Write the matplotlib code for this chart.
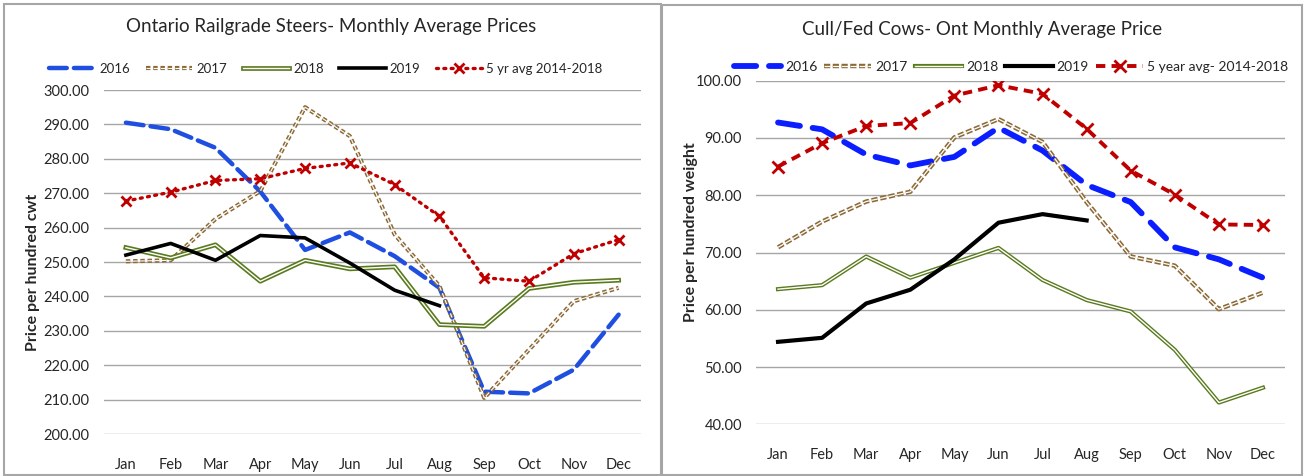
import matplotlib
matplotlib.use("Agg")
import matplotlib.pyplot as plt
import matplotlib.patheffects as pe
from matplotlib.patches import Rectangle

plt.rcParams['font.family'] = ['Lato', 'DejaVu Sans']

months = ['Jan', 'Feb', 'Mar', 'Apr', 'May', 'Jun', 'Jul', 'Aug', 'Sep', 'Oct', 'Nov', 'Dec']

# Ontario railgrade steers ($ per hundred cwt)
steers_2016 = [290.5, 288.6, 283.2, 270.5, 253.5, 258.6, 251.7, 242.5, 212.3, 211.8, 218.7, 234.7]
steers_2017 = [250.2, 250.5, 262.5, 270.6, 295.0, 286.6, 258.0, 243.0, 210.5, 224.5, 238.6, 242.5]
steers_2018 = [254.2, 251.2, 255.0, 244.4, 250.5, 248.0, 248.6, 231.8, 231.3, 242.3, 244.1, 244.7]
steers_2019 = [252.0, 255.4, 250.5, 257.7, 257.0, 249.7, 241.8, 237.3]
steers_5yr = [267.7, 270.3, 273.7, 274.2, 277.2, 278.8, 272.5, 263.3, 245.4, 244.4, 252.4, 256.5]

# Cull/fed cows ($ per hundred weight)
cows_2016 = [92.7, 91.5, 87.1, 85.2, 86.7, 91.8, 87.8, 81.8, 78.8, 70.9, 68.8, 65.6]
cows_2017 = [70.9, 75.4, 78.9, 80.6, 90.1, 93.3, 89.3, 78.8, 69.3, 67.7, 60.1, 63.0]
cows_2018 = [63.6, 64.3, 69.3, 65.6, 68.2, 70.8, 65.2, 61.7, 59.7, 53.0, 43.8, 46.4]
cows_2019 = [54.4, 55.1, 61.1, 63.5, 68.8, 75.2, 76.7, 75.6]
cows_5yr = [85.0, 89.1, 92.1, 92.6, 97.4, 99.2, 97.7, 91.6, 84.3, 80.1, 74.9, 74.8]

W, H = 1305, 476
fig = plt.figure(figsize=(W / 100, H / 100), dpi=100)

# panel borders
fig.patches.append(Rectangle((4 / W, 1 / H), 657 / W, 471 / H, transform=fig.transFigure,
                             fill=False, edgecolor='#a6a6a6', linewidth=1.5))
fig.patches.append(Rectangle((662 / W, 1 / H), 640 / W, 470 / H, transform=fig.transFigure,
                             fill=False, edgecolor='#a6a6a6', linewidth=1.5))

brown = '#8c6a35'
green = '#5a7a1e'


def double(color, width):
    return [pe.Stroke(linewidth=width, foreground=color), pe.Normal()]


def style_axes(ax, ymin, ymax, step, ylabel):
    ax.set_xlim(-0.5, 11.5)
    ax.set_ylim(ymin, ymax)
    ax.set_xticks(range(12))
    ax.set_xticklabels(months)
    ticks = list(range(ymin, ymax + 1, step))
    ax.set_yticks(ticks)
    ax.set_yticklabels(['%.2f' % t for t in ticks])
    ax.yaxis.grid(True, color='#a6a6a6', linewidth=1)
    ax.set_axisbelow(True)
    for s in ax.spines.values():
        s.set_visible(False)
    ax.tick_params(axis='both', length=0, labelsize=10.5, colors='#262626')
    ax.tick_params(axis='x', pad=17)
    ax.tick_params(axis='y', pad=10)
    ax.set_ylabel(ylabel, fontsize=11.5, fontweight='bold', color='#262626')


x12 = list(range(12))
x8 = list(range(8))

# ---- left chart ----
ax1 = fig.add_axes([103.5 / W, 42 / H, 537.5 / W, 344 / H])
style_axes(ax1, 200, 300, 10, 'Price per hundred cwt')
ax1.plot(x12, steers_2016, color='#1f4fe0', linewidth=3.2, dashes=(4, 1.6), label='2016',
         solid_capstyle='round', dash_capstyle='round', clip_on=False)
ax1.plot(x12, steers_2017, color='white', linewidth=0.8, dashes=(4, 2.5), label='2017',
         path_effects=double(brown, 3.0), clip_on=False)
ax1.plot(x12, steers_2018, color='white', linewidth=1.0, label='2018',
         path_effects=double(green, 3.4), clip_on=False)
ax1.plot(x8, steers_2019, color='black', linewidth=2.6, label='2019')
ax1.plot(x12, steers_5yr, color='#c00000', linewidth=2.4, linestyle=(0, (0.6, 1.6)),
         dash_capstyle='round', marker='x', markersize=7, markeredgewidth=2,
         label='5 yr avg 2014-2018')
ax1.set_title('Ontario Railgrade Steers- Monthly Average Prices', fontsize=13.5,
              color='#262626', x=(331 - 103.5) / 537.5, y=1.0, pad=42)
ax1.yaxis.set_label_coords(-0.118, 0.47)
ax1.legend(loc='center', bbox_to_anchor=(326 / W, 1 - 69 / H), bbox_transform=fig.transFigure,
           ncol=5, frameon=False, fontsize=9.5, handlelength=3.5, handletextpad=0.3,
           columnspacing=1.2, labelcolor='#262626')

# ---- right chart ----
ax2 = fig.add_axes([756 / W, 51.7 / H, 529 / W, 343.6 / H])
style_axes(ax2, 40, 100, 10, 'Price per hundred weight')
ax2.plot(x12, cows_2016, color='#0a1eff', linewidth=4.2, dashes=(3.8, 2.2), label='2016',
         dash_capstyle='round')
ax2.plot(x12, cows_2017, color='white', linewidth=0.9, dashes=(5, 2), label='2017',
         path_effects=double(brown, 3.2))
ax2.plot(x12, cows_2018, color='white', linewidth=1.0, label='2018',
         path_effects=double(green, 3.0))
ax2.plot(x8, cows_2019, color='black', linewidth=3.0, label='2019')
ax2.plot(x12, cows_5yr, color='#c00000', linewidth=2.8, dashes=(2.4, 1.6),
         marker='x', markersize=8, markeredgewidth=2, label='5 year avg- 2014-2018')
ax2.set_title('Cull/Fed Cows- Ont Monthly Average Price', fontsize=13.5,
              color='#262626', x=(982 - 756) / 529, y=1.0, pad=33)
ax2.yaxis.set_label_coords(-0.11, 0.56)
ax2.legend(loc='center', bbox_to_anchor=(1011 / W, 1 - 67 / H), bbox_transform=fig.transFigure,
           ncol=5, frameon=False, fontsize=10, handlelength=3.4, handletextpad=0.3,
           columnspacing=0.5, labelcolor='#262626')

fig.savefig('out.png', dpi=100)
